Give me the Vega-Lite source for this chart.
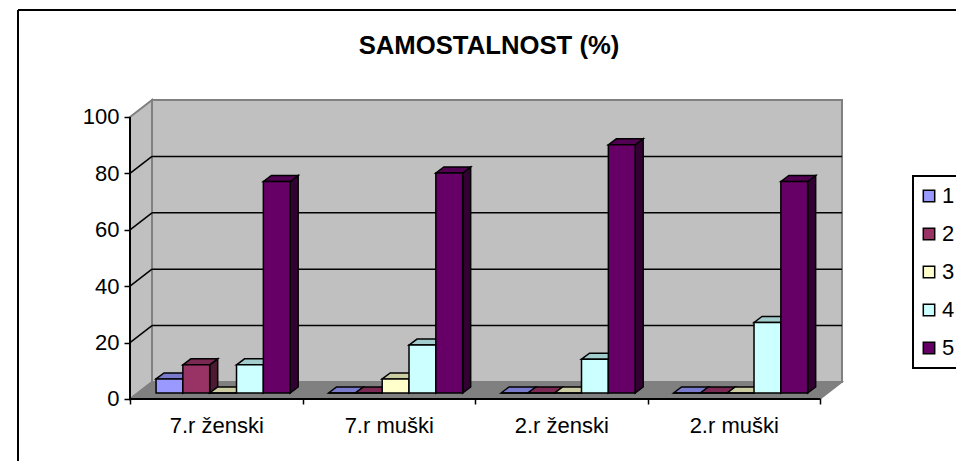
{
"$schema":"https://vega.github.io/schema/vega-lite/v6.json",
"width":938,"height":451,
"autosize":"none",
"padding":{"left":18,"top":10,"right":0,"bottom":0},
"background":"white",
"view":{"stroke":null},
"title":{"text":"SAMOSTALNOST (%)","anchor":"middle","frame":"group","offset":-51,"dx":2,"font":"Liberation Sans","fontSize":25.7,"fontWeight":"bold","color":"black"},
"config":{"font":"Liberation Sans","legend":{"strokeWidth":2}},
"datasets":{
"bars":[
{"group":"7.r ženski","series":"1","value":5},
{"group":"7.r ženski","series":"2","value":10},
{"group":"7.r ženski","series":"3","value":0},
{"group":"7.r ženski","series":"4","value":10},
{"group":"7.r ženski","series":"5","value":75},
{"group":"7.r muški","series":"1","value":0},
{"group":"7.r muški","series":"2","value":0},
{"group":"7.r muški","series":"3","value":5},
{"group":"7.r muški","series":"4","value":17},
{"group":"7.r muški","series":"5","value":78},
{"group":"2.r ženski","series":"1","value":0},
{"group":"2.r ženski","series":"2","value":0},
{"group":"2.r ženski","series":"3","value":0},
{"group":"2.r ženski","series":"4","value":12},
{"group":"2.r ženski","series":"5","value":88},
{"group":"2.r muški","series":"1","value":0},
{"group":"2.r muški","series":"2","value":0},
{"group":"2.r muški","series":"3","value":0},
{"group":"2.r muški","series":"4","value":25},
{"group":"2.r muški","series":"5","value":75}
],
"stops":[{"k":0},{"k":1},{"k":2},{"k":3}],
"one":[{"k":0}],
"grid":[{"tick":20},{"tick":40},{"tick":60},{"tick":80}]
},
"data":{"name":"bars"},
"encoding":{
"x":{"field":"px","type":"quantitative","title":null,
"scale":{"domain":[-0.6493,4.7884],"nice":false,"zero":false},
"axis":{"orient":"bottom","offset":-63,"values":[0,0.5,1,1.5,2,2.5,3,3.5,4],"domain":false,"grid":false,"tickColor":"black","tickWidth":1.5,"tickSize":6,"tickOpacity":{"condition":{"test":"datum.value % 1 == 0","value":1},"value":0},"labelFontSize":22,"labelColor":"black","labelPadding":11,"labelFlush":false,"labelOverlap":false,"labelExpr":"datum.value==0.5?'7.r ženski':datum.value==1.5?'7.r muški':datum.value==2.5?'2.r ženski':datum.value==3.5?'2.r muški':''","zindex":2}},
"y":{"field":"hi","type":"quantitative","title":null,"stack":false,
"scale":{"domain":[-21.99,137.94],"nice":false,"zero":false},
"axis":{"orient":"left","offset":-112,"values":[0,20,40,60,80,100],"domain":false,"grid":false,"tickColor":"black","tickWidth":1.5,"tickSize":6,"labelFontSize":22,"labelColor":"black","labelPadding":5,"zindex":2}}
},
"layer":[
{"data":{"name":"stops"},
 "transform":[{"filter":"datum.k<2"},{"calculate":"datum.k*0.1275","as":"px"},{"calculate":"datum.k*6.03","as":"lo"},{"calculate":"100+datum.k*6.03","as":"hi"}],
 "mark":{"type":"area","fill":"#C0C0C0","stroke":"#808080","strokeWidth":2},
 "encoding":{"y2":{"field":"lo"}}},
{"data":{"name":"one"},
 "transform":[{"calculate":"0.1275","as":"px"},{"calculate":"4.1275","as":"x1"},{"calculate":"6.03","as":"lo"},{"calculate":"106.03","as":"hi"}],
 "mark":{"type":"rect","fill":"#C0C0C0","stroke":"#808080","strokeWidth":2},
 "encoding":{"x2":{"field":"x1"},"y2":{"field":"lo"}}},
{"data":{"name":"stops"},
 "transform":[{"calculate":"[0,0.1275,4,4.1275][datum.k]","as":"px"},{"calculate":"[0,0,0,6.03][datum.k]","as":"lo"},{"calculate":"[0,6.03,6.03,6.03][datum.k]","as":"hi"}],
 "mark":{"type":"area","fill":"#808080","stroke":"#808080","strokeWidth":1.5},
 "encoding":{"y2":{"field":"lo"}}},
{"data":{"name":"grid"},
 "transform":[{"calculate":"datum.tick+6.03","as":"hi"},{"calculate":"0.1275","as":"px"},{"calculate":"4.1275","as":"x1"}],
 "mark":{"type":"rule","color":"black","strokeWidth":1.5},
 "encoding":{"x2":{"field":"x1"}}},
{"data":{"name":"grid"},
 "transform":[{"calculate":"datum.tick+6.03","as":"hi"},{"calculate":"datum.tick","as":"lo"},{"calculate":"0","as":"x0"},{"calculate":"0.1275","as":"x1"}],
 "mark":{"type":"rule","color":"black","strokeWidth":1.5},
 "encoding":{"x":{"field":"x0","type":"quantitative"},"y":{"field":"lo","type":"quantitative"},"x2":{"field":"x1"},"y2":{"field":"hi"}}},
{"data":{"name":"one"},
 "transform":[{"calculate":"0","as":"px"},{"calculate":"0","as":"lo"},{"calculate":"100","as":"hi"}],
 "mark":{"type":"rule","color":"black","strokeWidth":2},
 "encoding":{"y2":{"field":"lo"}}},
{"data":{"name":"one"},
 "transform":[{"calculate":"0","as":"px"},{"calculate":"4","as":"x1"},{"calculate":"0","as":"hi"}],
 "mark":{"type":"rule","color":"black","strokeWidth":2},
 "encoding":{"x2":{"field":"x1"}}},
{"data":{"name":"one"},
 "transform":[{"calculate":"-0.6493","as":"px"},{"calculate":"-21.99","as":"lo"},{"calculate":"137.94","as":"hi"}],
 "mark":{"type":"rule","color":"black","strokeWidth":2},
 "encoding":{"y2":{"field":"lo"}}},
{"data":{"name":"one"},
 "transform":[{"calculate":"-0.6493","as":"px"},{"calculate":"4.7884","as":"x1"},{"calculate":"137.94","as":"hi"}],
 "mark":{"type":"rule","color":"black","strokeWidth":2},
 "encoding":{"x2":{"field":"x1"}}},
{"data":{"name":"bars"},
 "transform":[
  {"calculate":"indexof(['7.r ženski','7.r muški','2.r ženski','2.r muški'],datum.group)+0.151+(toNumber(datum.series)-1)*0.1555+0.1555","as":"x1"},
  {"calculate":"[0,1]","as":"k"},{"flatten":["k"]},
  {"calculate":"datum.x1+datum.k*0.0464","as":"px"},
  {"calculate":"2.13+datum.k*2.13","as":"lo"},
  {"calculate":"2.13+datum.value+datum.k*2.13","as":"hi"}],
 "mark":{"type":"area","stroke":"black","strokeWidth":1.5},
 "encoding":{"y2":{"field":"lo"},"detail":{"field":"group"},
  "color":{"field":"series","type":"nominal","legend":null,"scale":{"domain":["1","2","3","4","5"],"range":["#4D4D80","#4D1A33","#808066","#668080","#330033"]}}}},
{"data":{"name":"bars"},
 "transform":[
  {"calculate":"indexof(['7.r ženski','7.r muški','2.r ženski','2.r muški'],datum.group)+0.151+(toNumber(datum.series)-1)*0.1555","as":"x0"},
  {"calculate":"[0,1,2,3]","as":"k"},{"flatten":["k"]},
  {"calculate":"datum.x0+[0,0.0464,0.1555,0.2019][datum.k]","as":"px"},
  {"calculate":"2.13+datum.value+[0,0,0,2.13][datum.k]","as":"lo"},
  {"calculate":"2.13+datum.value+[0,2.13,2.13,2.13][datum.k]","as":"hi"}],
 "mark":{"type":"area","stroke":"black","strokeWidth":1.5},
 "encoding":{"y2":{"field":"lo"},"detail":{"field":"group"},
  "color":{"field":"series","type":"nominal","legend":null,"scale":{"domain":["1","2","3","4","5"],"range":["#7A7ACC","#7A2952","#CCCCA3","#A3CCCC","#520052"]}}}},
{"data":{"name":"bars"},
 "transform":[
  {"calculate":"indexof(['7.r ženski','7.r muški','2.r ženski','2.r muški'],datum.group)+0.151+(toNumber(datum.series)-1)*0.1555","as":"px"},
  {"calculate":"datum.px+0.1555","as":"x1"},
  {"calculate":"2.13","as":"lo"},
  {"calculate":"2.13+datum.value","as":"hi"}],
 "mark":{"type":"rect","stroke":"black","strokeWidth":1.5},
 "encoding":{"x2":{"field":"x1"},"y2":{"field":"lo"},
  "color":{"field":"series","type":"nominal","scale":{"domain":["1","2","3","4","5"],"range":["#9999FF","#993366","#FFFFCC","#CCFFFF","#660066"]},
   "legend":{"title":null,"orient":"none","legendX":895,"legendY":166,"padding":9,"strokeColor":"black","fillColor":"white","symbolType":"square","symbolSize":130,"symbolOffset":-4,"symbolStrokeWidth":1.5,"symbolStrokeColor":"black","symbolOpacity":1,"labelFontSize":22,"labelColor":"black","labelOffset":2,"rowPadding":16}}}}
],
"resolve":{"scale":{"color":"independent"},"legend":{"color":"independent"}}
}
